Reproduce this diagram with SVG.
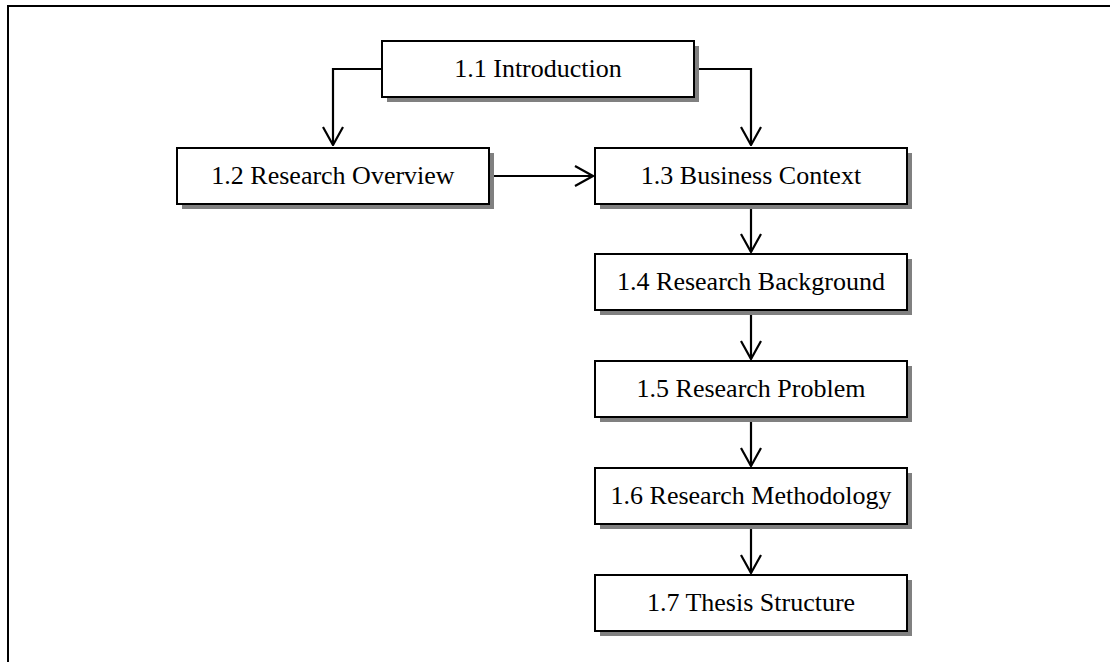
<svg xmlns="http://www.w3.org/2000/svg" width="1110" height="662" viewBox="0 0 1110 662">
  <style>
    .frame { fill: none; stroke: #000; stroke-width: 2; }
    .shadow { fill: #808080; stroke: none; }
    .box { fill: #fff; stroke: #000; stroke-width: 2; }
    .label { font-family: "Liberation Serif", "Times New Roman", serif; font-size: 26px; fill: #000; text-anchor: middle; }
    .link { fill: none; stroke: #000; stroke-width: 2.2; marker-end: url(#arrow); }
  </style>
  <defs>
    <marker id="arrow" viewBox="0 0 20 22" refX="19" refY="11" markerWidth="20" markerHeight="22" markerUnits="userSpaceOnUse" orient="auto">
      <path d="M1,1 L19,11 L1,21" fill="none" stroke="#000" stroke-width="2.2"/>
    </marker>
  </defs>

  <rect x="0" y="0" width="1110" height="662" fill="#fff"/>
  <!-- outer frame (continues past the page edge on the right and bottom) -->
  <rect class="frame" x="8" y="6" width="1130" height="700"/>

  <g id="connectors">
    <path class="link" d="M382,69 H333 V145"/>
    <path class="link" d="M694,69 H751 V145"/>
    <path class="link" d="M489,176 H593"/>
    <path class="link" d="M751,204 V252"/>
    <path class="link" d="M751,310 V359"/>
    <path class="link" d="M751,417 V466"/>
    <path class="link" d="M751,524 V573"/>
  </g>

  <g id="n11">
    <rect class="shadow" x="387" y="46" width="312" height="56"/>
    <rect class="box" x="382" y="41" width="312" height="56"/>
    <text class="label" x="538" y="77">1.1 Introduction</text>
  </g>
  <g id="n12">
    <rect class="shadow" x="182" y="153" width="312" height="56"/>
    <rect class="box" x="177" y="148" width="312" height="56"/>
    <text class="label" x="333" y="184">1.2 Research Overview</text>
  </g>
  <g id="n13">
    <rect class="shadow" x="600" y="153" width="312" height="56"/>
    <rect class="box" x="595" y="148" width="312" height="56"/>
    <text class="label" x="751" y="184">1.3 Business Context</text>
  </g>
  <g id="n14">
    <rect class="shadow" x="600" y="259" width="312" height="56"/>
    <rect class="box" x="595" y="254" width="312" height="56"/>
    <text class="label" x="751" y="290">1.4 Research Background</text>
  </g>
  <g id="n15">
    <rect class="shadow" x="600" y="366" width="312" height="56"/>
    <rect class="box" x="595" y="361" width="312" height="56"/>
    <text class="label" x="751" y="397">1.5 Research Problem</text>
  </g>
  <g id="n16">
    <rect class="shadow" x="600" y="473" width="312" height="56"/>
    <rect class="box" x="595" y="468" width="312" height="56"/>
    <text class="label" x="751" y="504">1.6 Research Methodology</text>
  </g>
  <g id="n17">
    <rect class="shadow" x="600" y="580" width="312" height="56"/>
    <rect class="box" x="595" y="575" width="312" height="56"/>
    <text class="label" x="751" y="611">1.7 Thesis Structure</text>
  </g>
</svg>
